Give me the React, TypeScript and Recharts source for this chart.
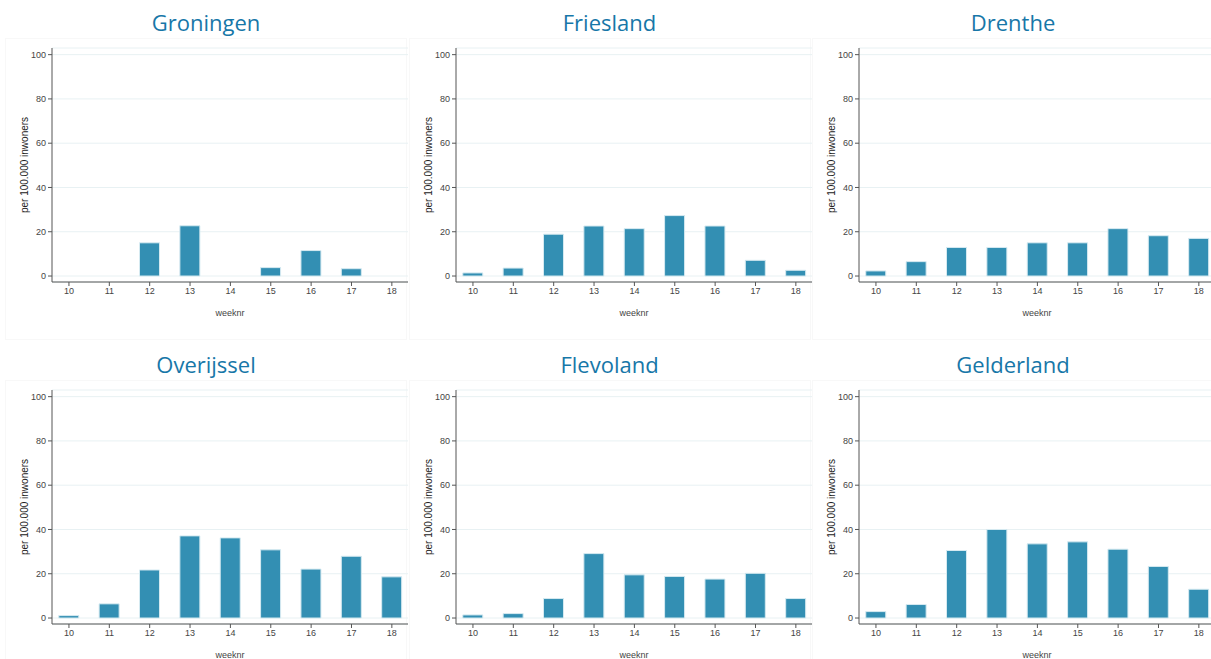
import { BarChart, Bar, XAxis, YAxis, CartesianGrid } from "recharts";

const weeks = [10, 11, 12, 13, 14, 15, 16, 17, 18];
const yTicks = [0, 20, 40, 60, 80, 100];

const groningen = [0, 0, 15.0, 22.7, 0, 3.8, 11.5, 3.3, 0];
const friesland = [1.4, 3.6, 18.9, 22.6, 21.4, 27.3, 22.6, 7.1, 2.6];
const drenthe = [2.3, 6.5, 12.9, 12.9, 15.0, 15.0, 21.4, 18.2, 17.0];
const overijssel = [1.1, 6.4, 21.7, 37.1, 36.2, 30.8, 22.1, 27.9, 18.6];
const flevoland = [1.4, 2.0, 8.8, 29.1, 19.5, 18.8, 17.6, 20.2, 8.8];
const gelderland = [2.9, 6.1, 30.5, 40.0, 33.5, 34.4, 31.1, 23.3, 13.0];

const provinces = ["Groningen", "Friesland", "Drenthe", "Overijssel", "Flevoland", "Gelderland"];
const series = [groningen, friesland, drenthe, overijssel, flevoland, gelderland];

const TITLE_COLOR = "#1777a8";
const BAR_COLOR = "#338fb3";
const AXIS_COLOR = "#555";
const TICK_STYLE = { fontSize: 9, fontFamily: "Liberation Sans, Arial, sans-serif", fill: "#444" };

function Panel({ title, values, left, top }: { title: string; values: number[]; left: number; top: number }) {
  const data = weeks.map((w, i) => ({ week: w, value: values[i] }));
  return (
    <div style={{ position: "absolute", left, top, width: 410, height: 342 }}>
      {/* faint panel frame */}
      <div
        style={{
          position: "absolute",
          left: 5,
          top: 38,
          width: 400,
          height: 300,
          border: "1px solid #f8f8f8",
        }}
      />
      <div
        style={{
          position: "absolute",
          left: 0,
          width: 412,
          top: 6,
          textAlign: "center",
          fontFamily: "Open Sans, sans-serif",
          fontSize: 22,
          color: TITLE_COLOR,
          lineHeight: "32px",
        }}
      >
        {title}
      </div>
      <BarChart
        width={410}
        height={330}
        data={data}
        margin={{ top: 48, right: 2, bottom: 8, left: 0 }}
        style={{ position: "absolute", left: 0, top: 0 }}
      >
        <CartesianGrid horizontal vertical={false} stroke="#e8f1f3" />
        <XAxis
          dataKey="week"
          type="number"
          domain={[9.58, 18.4]}
          allowDataOverflow
          ticks={weeks}
          interval={0}
          height={40}
          stroke={AXIS_COLOR}
          tickSize={4}
          tick={TICK_STYLE}
          label={{
            value: "weeknr",
            position: "insideBottom",
            offset: 6,
            style: { fontSize: 9, fontFamily: "Liberation Sans, Arial, sans-serif", fill: "#444" },
          }}
        />
        <YAxis
          type="number"
          domain={[-2.7, 103]}
          allowDataOverflow
          ticks={yTicks}
          interval={0}
          width={52}
          stroke={AXIS_COLOR}
          tickSize={4}
          tick={TICK_STYLE}
          label={{
            value: "per 100.000 inwoners",
            angle: -90,
            position: "insideLeft",
            offset: 24,
            style: { textAnchor: "middle", fontSize: 10, fontFamily: "Liberation Sans, Arial, sans-serif", fill: "#222" },
          }}
        />
        <Bar
          dataKey="value"
          barSize={20}
          fill={BAR_COLOR}
          stroke="#d6eaf1"
          strokeWidth={1}
          isAnimationActive={false}
        />
      </BarChart>
    </div>
  );
}

export default function App() {
  return (
    <div
      style={{
        position: "absolute",
        left: 0,
        top: 0,
        width: 1211,
        height: 659,
        background: "#fff",
        overflow: "hidden",
      }}
    >
      {provinces.map((p, i) => (
        <Panel
          key={p}
          title={p}
          values={series[i]}
          left={(i % 3) * 403.5}
          top={Math.floor(i / 3) * 342}
        />
      ))}
    </div>
  );
}
